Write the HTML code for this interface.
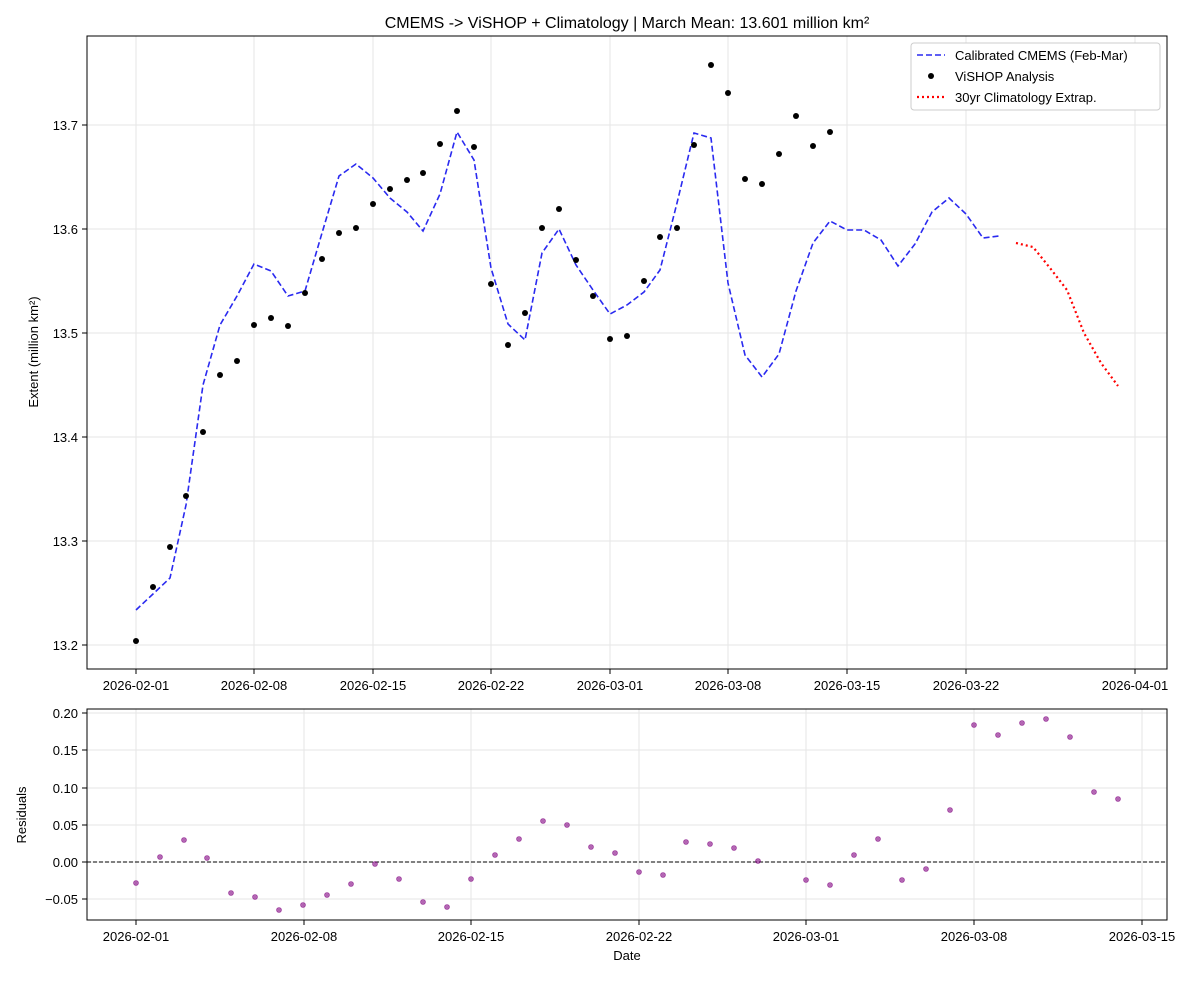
<!DOCTYPE html>
<html><head><meta charset="utf-8"><style>
body{margin:0;background:#fff}
svg text{font-family:"Liberation Sans",sans-serif;font-size:13px;fill:#000}
</style></head><body>
<svg width="1200" height="977" xmlns="http://www.w3.org/2000/svg">
<rect width="1200" height="977" fill="#fff"/>
<text x="627" y="28" text-anchor="middle" font-size="16" style="font-size:16px">CMEMS -&gt; ViSHOP + Climatology | March Mean: 13.601 million km²</text>
<g stroke="#e6e6e6" stroke-width="1">
<line x1="87" x2="1167" y1="645" y2="645"/><line x1="87" x2="1167" y1="541" y2="541"/><line x1="87" x2="1167" y1="437" y2="437"/><line x1="87" x2="1167" y1="333" y2="333"/><line x1="87" x2="1167" y1="229" y2="229"/><line x1="87" x2="1167" y1="125" y2="125"/>
<line y1="36" y2="669" x1="136" x2="136"/><line y1="36" y2="669" x1="254" x2="254"/><line y1="36" y2="669" x1="373" x2="373"/><line y1="36" y2="669" x1="491" x2="491"/><line y1="36" y2="669" x1="610" x2="610"/><line y1="36" y2="669" x1="728" x2="728"/><line y1="36" y2="669" x1="847" x2="847"/><line y1="36" y2="669" x1="966" x2="966"/><line y1="36" y2="669" x1="1135" x2="1135"/>
</g>
<rect x="87" y="36" width="1080" height="633" fill="none" stroke="#000"/>
<g stroke="#000"><line x1="82" x2="87" y1="645" y2="645"/><line x1="82" x2="87" y1="541" y2="541"/><line x1="82" x2="87" y1="437" y2="437"/><line x1="82" x2="87" y1="333" y2="333"/><line x1="82" x2="87" y1="229" y2="229"/><line x1="82" x2="87" y1="125" y2="125"/>
<line y1="669" y2="674" x1="136" x2="136"/><line y1="669" y2="674" x1="254" x2="254"/><line y1="669" y2="674" x1="373" x2="373"/><line y1="669" y2="674" x1="491" x2="491"/><line y1="669" y2="674" x1="610" x2="610"/><line y1="669" y2="674" x1="728" x2="728"/><line y1="669" y2="674" x1="847" x2="847"/><line y1="669" y2="674" x1="966" x2="966"/><line y1="669" y2="674" x1="1135" x2="1135"/></g>
<g text-anchor="end"><text x="78" y="650">13.2</text><text x="78" y="546">13.3</text><text x="78" y="442">13.4</text><text x="78" y="338">13.5</text><text x="78" y="234">13.6</text><text x="78" y="130">13.7</text></g>
<g text-anchor="middle"><text x="136" y="690">2026-02-01</text><text x="254" y="690">2026-02-08</text><text x="373" y="690">2026-02-15</text><text x="491" y="690">2026-02-22</text><text x="610" y="690">2026-03-01</text><text x="728" y="690">2026-03-08</text><text x="847" y="690">2026-03-15</text><text x="966" y="690">2026-03-22</text><text x="1135" y="690">2026-04-01</text></g>
<text transform="translate(38,352) rotate(-90)" text-anchor="middle">Extent (million km²)</text>
<polyline fill="none" stroke="#2a2af0" stroke-width="1.6" stroke-dasharray="6,3" points="136,610 153,594 170,578 186,505 203,385 220,325 237,296 254,264 271,271 288,296 305,291 322,233 339,176 356,164 373,178 390,198 407,212 423,231 440,194 457,132 474,160 491,268 508,324 525,340 542,253 559,229 576,265 593,290 610,314 627,305 644,292 660,270 677,203 694,133 711,138 728,283 745,355 762,377 779,354 796,291 813,243 830,221 847,230 864,230 881,240 898,266 915,244 932,212 949,198 966,214 983,238 999,236"/>
<polyline fill="none" stroke="#f00" stroke-width="2.2" stroke-dasharray="2,3" points="1016,243 1033,247 1050,268 1067,290 1084,333 1101,363 1118,386"/>
<g fill="#000">
<circle cx="136" cy="641" r="3"/><circle cx="153" cy="587" r="3"/><circle cx="170" cy="547" r="3"/><circle cx="186" cy="496" r="3"/><circle cx="203" cy="432" r="3"/><circle cx="220" cy="375" r="3"/><circle cx="237" cy="361" r="3"/><circle cx="254" cy="325" r="3"/><circle cx="271" cy="318" r="3"/><circle cx="288" cy="326" r="3"/><circle cx="305" cy="293" r="3"/><circle cx="322" cy="259" r="3"/><circle cx="339" cy="233" r="3"/><circle cx="356" cy="228" r="3"/><circle cx="373" cy="204" r="3"/><circle cx="390" cy="189" r="3"/><circle cx="407" cy="180" r="3"/><circle cx="423" cy="173" r="3"/><circle cx="440" cy="144" r="3"/><circle cx="457" cy="111" r="3"/><circle cx="474" cy="147" r="3"/><circle cx="491" cy="284" r="3"/><circle cx="508" cy="345" r="3"/><circle cx="525" cy="313" r="3"/><circle cx="542" cy="228" r="3"/><circle cx="559" cy="209" r="3"/><circle cx="576" cy="260" r="3"/><circle cx="593" cy="296" r="3"/><circle cx="610" cy="339" r="3"/><circle cx="627" cy="336" r="3"/><circle cx="644" cy="281" r="3"/><circle cx="660" cy="237" r="3"/><circle cx="677" cy="228" r="3"/><circle cx="694" cy="145" r="3"/><circle cx="711" cy="65" r="3"/><circle cx="728" cy="93" r="3"/><circle cx="745" cy="179" r="3"/><circle cx="762" cy="184" r="3"/><circle cx="779" cy="154" r="3"/><circle cx="796" cy="116" r="3"/><circle cx="813" cy="146" r="3"/><circle cx="830" cy="132" r="3"/>
</g>
<rect x="911" y="43" width="249" height="67" fill="#fff" stroke="#ccc" rx="3"/>
<line x1="917" x2="945" y1="55" y2="55" stroke="#2a2af0" stroke-width="1.6" stroke-dasharray="6,3"/>
<text x="955" y="60">Calibrated CMEMS (Feb-Mar)</text>
<circle cx="931" cy="76" r="3" fill="#000"/>
<text x="955" y="81">ViSHOP Analysis</text>
<line x1="917" x2="945" y1="97" y2="97" stroke="#f00" stroke-width="2.2" stroke-dasharray="2,3"/>
<text x="955" y="102">30yr Climatology Extrap.</text>

<g stroke="#e6e6e6">
<line x1="87" x2="1167" y1="899" y2="899"/><line x1="87" x2="1167" y1="862" y2="862"/><line x1="87" x2="1167" y1="825" y2="825"/><line x1="87" x2="1167" y1="788" y2="788"/><line x1="87" x2="1167" y1="750" y2="750"/><line x1="87" x2="1167" y1="713" y2="713"/>
<line y1="709" y2="920" x1="136" x2="136"/><line y1="709" y2="920" x1="304" x2="304"/><line y1="709" y2="920" x1="471" x2="471"/><line y1="709" y2="920" x1="639" x2="639"/><line y1="709" y2="920" x1="806" x2="806"/><line y1="709" y2="920" x1="974" x2="974"/><line y1="709" y2="920" x1="1142" x2="1142"/>
</g>
<rect x="87" y="709" width="1080" height="211" fill="none" stroke="#000"/>
<line x1="87" x2="1167" y1="862" y2="862" stroke="#000" stroke-dasharray="4,2"/>
<g stroke="#000"><line x1="82" x2="87" y1="899" y2="899"/><line x1="82" x2="87" y1="862" y2="862"/><line x1="82" x2="87" y1="825" y2="825"/><line x1="82" x2="87" y1="788" y2="788"/><line x1="82" x2="87" y1="750" y2="750"/><line x1="82" x2="87" y1="713" y2="713"/>
<line y1="920" y2="925" x1="136" x2="136"/><line y1="920" y2="925" x1="304" x2="304"/><line y1="920" y2="925" x1="471" x2="471"/><line y1="920" y2="925" x1="639" x2="639"/><line y1="920" y2="925" x1="806" x2="806"/><line y1="920" y2="925" x1="974" x2="974"/><line y1="920" y2="925" x1="1142" x2="1142"/></g>
<g text-anchor="end"><text x="78" y="904">−0.05</text><text x="78" y="867">0.00</text><text x="78" y="830">0.05</text><text x="78" y="793">0.10</text><text x="78" y="755">0.15</text><text x="78" y="718">0.20</text></g>
<g text-anchor="middle"><text x="136" y="941">2026-02-01</text><text x="304" y="941">2026-02-08</text><text x="471" y="941">2026-02-15</text><text x="639" y="941">2026-02-22</text><text x="806" y="941">2026-03-01</text><text x="974" y="941">2026-03-08</text><text x="1142" y="941">2026-03-15</text>
<text x="627" y="960">Date</text></g>
<text transform="translate(26,815) rotate(-90)" text-anchor="middle">Residuals</text>
<g fill="#800080" fill-opacity="0.6" stroke="#800080" stroke-opacity="0.7" stroke-width="0.6">
<circle cx="136" cy="883" r="2.5"/><circle cx="160" cy="857" r="2.5"/><circle cx="184" cy="840" r="2.5"/><circle cx="207" cy="858" r="2.5"/><circle cx="231" cy="893" r="2.5"/><circle cx="255" cy="897" r="2.5"/><circle cx="279" cy="910" r="2.5"/><circle cx="303" cy="905" r="2.5"/><circle cx="327" cy="895" r="2.5"/><circle cx="351" cy="884" r="2.5"/><circle cx="375" cy="864" r="2.5"/><circle cx="399" cy="879" r="2.5"/><circle cx="423" cy="902" r="2.5"/><circle cx="447" cy="907" r="2.5"/><circle cx="471" cy="879" r="2.5"/><circle cx="495" cy="855" r="2.5"/><circle cx="519" cy="839" r="2.5"/><circle cx="543" cy="821" r="2.5"/><circle cx="567" cy="825" r="2.5"/><circle cx="591" cy="847" r="2.5"/><circle cx="615" cy="853" r="2.5"/><circle cx="639" cy="872" r="2.5"/><circle cx="663" cy="875" r="2.5"/><circle cx="686" cy="842" r="2.5"/><circle cx="710" cy="844" r="2.5"/><circle cx="734" cy="848" r="2.5"/><circle cx="758" cy="861" r="2.5"/>
<circle cx="806" cy="880" r="2.5"/><circle cx="830" cy="885" r="2.5"/><circle cx="854" cy="855" r="2.5"/><circle cx="878" cy="839" r="2.5"/><circle cx="902" cy="880" r="2.5"/><circle cx="926" cy="869" r="2.5"/><circle cx="950" cy="810" r="2.5"/><circle cx="974" cy="725" r="2.5"/><circle cx="998" cy="735" r="2.5"/><circle cx="1022" cy="723" r="2.5"/><circle cx="1046" cy="719" r="2.5"/><circle cx="1070" cy="737" r="2.5"/><circle cx="1094" cy="792" r="2.5"/><circle cx="1118" cy="799" r="2.5"/>
</g>
</svg>
</body></html>
